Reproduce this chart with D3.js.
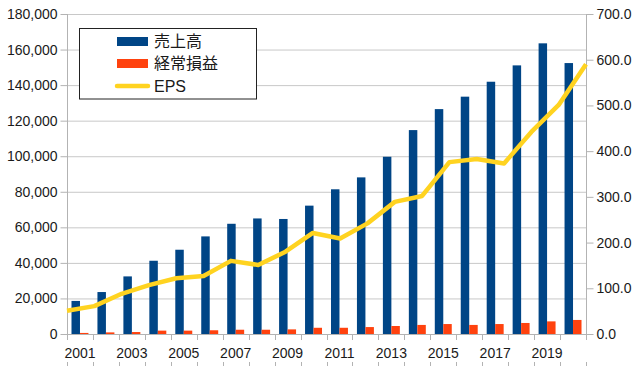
<!DOCTYPE html>
<html><head><meta charset="utf-8">
<script src="https://cdn.jsdelivr.net/npm/d3@7"></script>
<style>body{margin:0;background:#fff}svg{display:block}</style>
</head><body>
<svg id="c" width="640" height="366"></svg>
<script>
const years = ["2001","2002","2003","2004","2005","2006","2007","2008","2009","2010","2011","2012","2013","2014","2015","2016","2017","2018","2019","2020"];
const sales = [18600,23600,32400,41200,47400,54900,62000,65000,64700,72200,81400,88100,99700,114700,126500,133500,141900,151100,163500,152400];
const ordinary = [600,900,1100,1900,1900,2100,2400,2400,2600,3500,3500,3900,4500,5100,5600,5100,5600,6200,7100,7900];
const eps = [51,61,88,107,122,127,160,151,180,221,209,242,289,302,376,383,373,442,501,590];
const leftTicks = [0,20000,40000,60000,80000,100000,120000,140000,160000,180000];
const rightTicks = [0,100,200,300,400,500,600,700];
const seriesNames = ["売上高","経常損益","EPS"];
const colors = ["#004586","#ff420e","#ffd320"];

const svg = d3.select("#c");
const L=67,R=586,T=14,B=334;
const x = d3.scaleBand().domain(years).range([L,R]).paddingInner(0).paddingOuter(0);
const x1 = d3.scaleBand().domain([0,1]).range([0,x.bandwidth()]).paddingInner(0).paddingOuter(0.53);
const xp = d3.scalePoint().domain(years).range([L,R]).padding(0);
const yL = d3.scaleLinear().domain([0,180000]).range([B,T]);
const yR = d3.scaleLinear().domain([0,700]).range([B,T]);
const font = "'Liberation Sans', Arial, sans-serif";

// gridlines
svg.append("g").selectAll("line").data(leftTicks).join("line")
  .attr("x1",L).attr("x2",R).attr("y1",d=>yL(d)+0.5).attr("y2",d=>yL(d)+0.5)
  .attr("stroke","#c8c8c8").attr("stroke-width",1);

// left axis
const gl = svg.append("g").attr("transform",`translate(${L+0.5},0)`)
  .call(d3.axisLeft(yL).tickValues(leftTicks).tickFormat(d3.format(",")).tickSize(7).tickPadding(3));
gl.select(".domain").attr("stroke","#b3b3b3").attr("d",`M0,${T}V${B}`);
gl.selectAll(".tick line").attr("stroke","#b3b3b3");
gl.selectAll("text").attr("font-family",font).attr("font-size",14).attr("fill","#1a1a1a");

// right axis
const gr = svg.append("g").attr("transform",`translate(${R+0.5},0)`)
  .call(d3.axisRight(yR).tickValues(rightTicks).tickFormat(d3.format(".1f")).tickSize(7).tickPadding(3));
gr.select(".domain").attr("stroke","#b3b3b3").attr("d",`M0,${T}V${B}`);
gr.selectAll(".tick line").attr("stroke","#b3b3b3");
gr.selectAll("text").attr("font-family",font).attr("font-size",14).attr("fill","#1a1a1a");

// bottom axis line and ticks
const edges = years.map(y=>x(y)).concat([R]);
svg.append("line").attr("x1",L).attr("x2",R).attr("y1",B+0.5).attr("y2",B+0.5).attr("stroke","#b3b3b3");
svg.append("g").selectAll("line").data(edges).join("line")
  .attr("x1",d=>Math.round(d)+0.5).attr("x2",d=>Math.round(d)+0.5).attr("y1",B).attr("y2",B+6).attr("stroke","#b3b3b3");
svg.append("g").selectAll("line").data(edges).join("line")
  .attr("x1",d=>Math.round(d)+0.5).attr("x2",d=>Math.round(d)+0.5).attr("y1",362).attr("y2",366).attr("stroke","#b3b3b3");
svg.append("g").selectAll("text").data(years.filter((d,i)=>i%2===0)).join("text")
  .attr("x",d=>x(d)+x.bandwidth()/2).attr("y",358).attr("text-anchor","middle")
  .attr("font-family",font).attr("font-size",14).attr("fill","#1a1a1a").text(d=>d);

// bars
const gb = svg.append("g");
gb.selectAll("rect.s").data(years).join("rect").attr("class","s")
  .attr("x",(d)=>x(d)+x1(0)).attr("width",x1.bandwidth())
  .attr("y",(d,i)=>yL(sales[i])).attr("height",(d,i)=>B-yL(sales[i])).attr("fill",colors[0]);
gb.selectAll("rect.o").data(years).join("rect").attr("class","o")
  .attr("x",(d)=>x(d)+x1(1)).attr("width",x1.bandwidth())
  .attr("y",(d,i)=>yL(ordinary[i])).attr("height",(d,i)=>B-yL(ordinary[i])).attr("fill",colors[1]);

// EPS line
const line = d3.line().x((d,i)=>xp(years[i])).y(d=>yR(d));
svg.append("path").datum(eps).attr("d",line).attr("fill","none")
  .attr("stroke",colors[2]).attr("stroke-width",4.5).attr("stroke-linejoin","round");

// legend
const lg = svg.append("g");
lg.append("rect").attr("x",79.5).attr("y",28.5).attr("width",177).attr("height",70.5)
  .attr("fill","#fff").attr("stroke","#222").attr("stroke-width",1);
const ly = [41.5,63.5,86];
lg.append("rect").attr("x",117).attr("y",ly[0]-4.5).attr("width",31).attr("height",9).attr("fill",colors[0]);
lg.append("rect").attr("x",117).attr("y",ly[1]-4.5).attr("width",31).attr("height",9).attr("fill",colors[1]);
lg.append("line").attr("x1",117).attr("x2",148).attr("y1",ly[2]).attr("y2",ly[2])
  .attr("stroke",colors[2]).attr("stroke-width",4.5).attr("stroke-linecap","round");
lg.selectAll("text").data(seriesNames).join("text")
  .attr("x",154).attr("y",(d,i)=>ly[i]).attr("dominant-baseline","central")
  .attr("font-family","'Liberation Sans', 'Noto Sans CJK JP', sans-serif").attr("font-size",16).attr("fill","#1a1a1a")
  .text(d=>d);
</script>
</body></html>
